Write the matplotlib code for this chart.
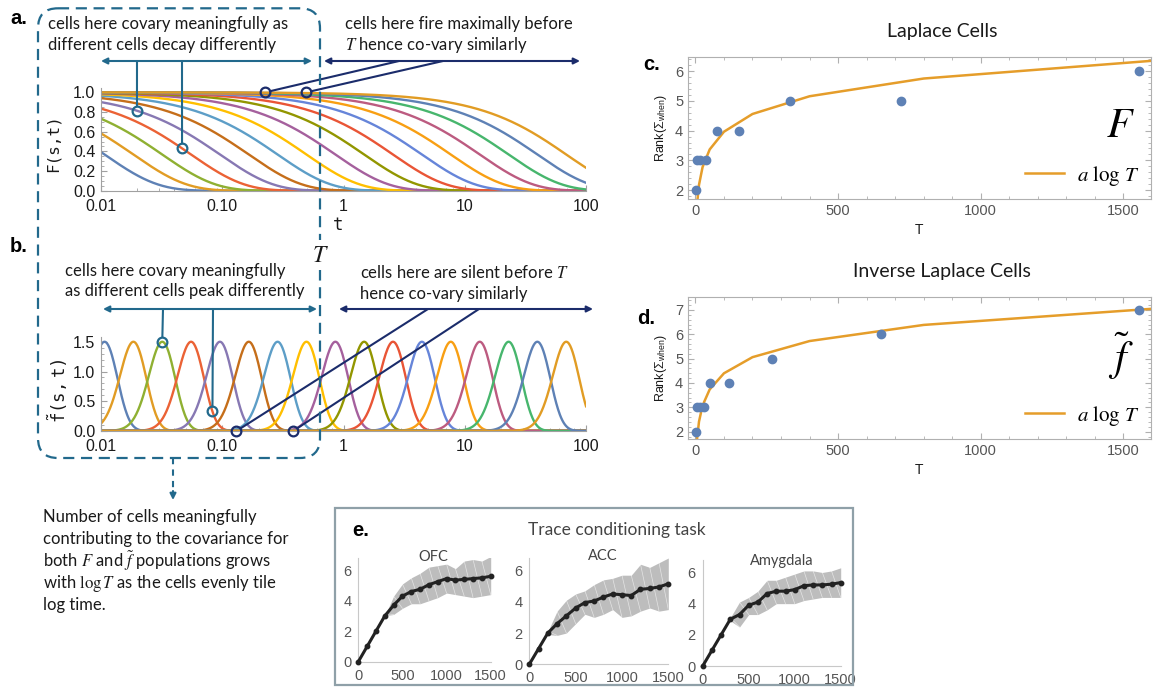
import numpy as np
import matplotlib
matplotlib.use('Agg')
import matplotlib.pyplot as plt
from matplotlib.patches import FancyBboxPatch, ConnectionPatch, Rectangle
from matplotlib.ticker import MultipleLocator, LogLocator, NullFormatter

plt.rcParams['font.family'] = ['Lato', 'DejaVu Sans']
plt.rcParams['mathtext.fontset'] = 'stix'

W, H = 1156, 689

# peak times / decay constants of the 17 cells
cell_tau = [0.0107, 0.0185, 0.032, 0.0553, 0.0957, 0.1655, 0.286, 0.495,
            0.857, 1.48, 2.56, 4.43, 7.67, 13.3, 23.0, 39.7, 68.7]
peak_height = 1.5
tilde_k = 16
cell_colors = ['#5e81b5', '#e19c24', '#8fb032', '#eb6235', '#8778b3', '#c56e1a',
               '#5d9ec7', '#ffbf00', '#a5609d', '#929600', '#e95536', '#6685d9',
               '#f89f13', '#bc5b80', '#47b66d', '#5e81b5', '#e19c24']

# rank of the covariance matrix vs interval length T
laplace_T = [3, 7, 17, 37, 74, 152, 330, 720, 1555]
laplace_rank = [2, 3, 3, 3, 4, 4, 5, 5, 6]
laplace_a = 0.861
inverse_T = [3, 7, 17, 30, 52, 116, 270, 650, 1555]
inverse_rank = [2, 3, 3, 3, 4, 4, 5, 6, 7]
inverse_a = 0.955
fit_T = [6.25, 12.5, 25, 50, 100, 200, 400, 800, 1600]

# trace conditioning task (rank vs time, mean and spread)
trace_x = [0, 100, 200, 300, 400, 500, 600, 700, 800, 900, 1000, 1100, 1200, 1300, 1400, 1500]
ofc_mean = [0, 1, 2, 3, 3.7, 4.3, 4.6, 4.75, 5.05, 5.25, 5.45, 5.35, 5.4, 5.45, 5.5, 5.6]
ofc_lo = [3.0, 3.1, 3.5, 3.8, 3.8, 4.0, 4.2, 4.5, 4.4, 4.3, 4.2, 4.3, 4.4]
ofc_hi = [3.0, 4.3, 5.1, 5.5, 5.8, 6.2, 6.3, 6.4, 6.1, 6.6, 6.7, 6.6, 6.9]
acc_mean = [0, 1, 2, 2.6, 3.1, 3.6, 3.95, 4.05, 4.3, 4.5, 4.45, 4.4, 4.8, 4.85, 4.95, 5.15]
acc_lo = [1.9, 1.85, 2.0, 2.6, 3.2, 3.0, 3.2, 3.5, 3.0, 3.1, 3.4, 3.6, 3.4, 3.5]
acc_hi = [2.1, 3.4, 4.1, 4.5, 4.7, 5.1, 5.4, 5.5, 5.7, 5.7, 6.4, 6.2, 6.5, 6.8]
amy_mean = [0, 1, 2, 3, 3.3, 3.9, 4.1, 4.65, 4.8, 4.8, 4.9, 5.15, 5.2, 5.2, 5.25, 5.35]
amy_lo = [2.9, 2.5, 3.3, 3.3, 3.6, 4.0, 4.0, 4.0, 4.2, 4.3, 4.4, 4.4, 4.4]
amy_hi = [3.1, 4.1, 4.4, 4.8, 5.5, 5.5, 5.7, 5.9, 6.1, 6.1, 6.0, 6.1, 6.3]

teal = '#22698c'
navy = '#1b2c6b'
txt = '#1a1a1a'
note_size = 12

fig = plt.figure(figsize=(W / 100, H / 100), dpi=100)
ov = fig.add_axes([0, 0, 1, 1], zorder=10)
ov.set_xlim(0, W)
ov.set_ylim(H, 0)
ov.axis('off')


def px_axes(x0, y0, x1, y1):
    return fig.add_axes([x0 / W, 1 - y1 / H, (x1 - x0) / W, (y1 - y0) / H])


def harrow(x0, x1, y, color):
    ov.annotate('', xy=(x1, y), xytext=(x0, y),
                arrowprops=dict(arrowstyle='<|-|>', color=color, lw=1.5,
                                mutation_scale=9, shrinkA=0, shrinkB=0))


def pointer(ax, xy, xy_px, color):
    con = ConnectionPatch(xyA=xy, coordsA=ax.transData, xyB=xy_px, coordsB=ov.transData,
                          color=color, lw=1.5, shrinkA=3.5, shrinkB=0)
    ov.add_artist(con)
    ax.plot(*xy, 'o', ms=7, mfc='none', mec=color, mew=1.6, clip_on=False, zorder=6)


def time_axis(ax):
    ax.set_xscale('log')
    ax.set_xlim(0.01, 100)
    for s in ['top', 'right']:
        ax.spines[s].set_visible(False)
    for s in ['left', 'bottom']:
        ax.spines[s].set_color('#a0a0a0')
    ax.set_xticks([0.01, 0.1, 1, 10, 100])
    ax.set_xticklabels(['0.01', '0.10', '1', '10', '100'])
    ax.xaxis.set_minor_locator(LogLocator(subs=np.arange(2, 10)))
    ax.xaxis.set_minor_formatter(NullFormatter())
    ax.tick_params(which='both', direction='in', color='#a0a0a0', labelsize=11.5,
                   labelcolor=txt, labelfontfamily='Liberation Sans')
    ax.tick_params(which='major', length=4)
    ax.tick_params(which='minor', length=2)
    ax.tick_params(axis='x', pad=6)
    ax.tick_params(axis='y', pad=4)
    ax.patch.set_alpha(0)


t = np.logspace(-2, 2, 800)

# a. Laplace cells
axa = px_axes(101, 88.4, 586, 190.7)
for tau, c in zip(cell_tau, cell_colors):
    axa.plot(t, np.exp(-t / tau), color=c, lw=1.7)
time_axis(axa)
axa.set_ylim(0, 1.04)
axa.set_yticks([0, 0.2, 0.4, 0.6, 0.8, 1.0])
axa.set_yticklabels(['0.0', '0.2', '0.4', '0.6', '0.8', '1.0'])
axa.yaxis.set_minor_locator(MultipleLocator(0.05))
ov.text(53, 143, 'F(s,t)', rotation=90, ha='center', va='center', fontsize=11.5,
        family='DejaVu Sans Mono', color=txt)
ov.text(338, 225, 't', ha='center', va='center', fontsize=12.5,
        family='DejaVu Sans Mono', color=txt)

# b. inverse Laplace cells
axb = px_axes(101, 337, 586, 431)
for tau, c in zip(cell_tau, cell_colors):
    u = t / tau
    axb.plot(t, peak_height * u ** tilde_k * np.exp(tilde_k * (1 - u)), color=c, lw=1.7)
time_axis(axb)
axb.set_ylim(0, 1.58)
axb.set_yticks([0, 0.5, 1.0, 1.5])
axb.set_yticklabels(['0.0', '0.5', '1.0', '1.5'])
axb.yaxis.set_minor_locator(MultipleLocator(0.1))
ov.text(58, 391, r'$\tilde{\mathtt{f}}\mathtt{(s,t)}$', rotation=90, ha='center', va='center',
        fontsize=12.5, math_fontfamily='dejavusans', color=txt)

# panel letters
for x, y, s in [(19, 19, 'a.'), (19, 247, 'b.'), (652, 65, 'c.'), (646, 318, 'd.'), (361, 530, 'e.')]:
    ov.text(x, y, s, ha='center', va='center', fontsize=14.5, weight='bold',
            family='Liberation Sans', color='black')

# annotations panel a
ov.text(48, 24, 'cells here covary meaningfully as', va='center', fontsize=note_size, color=txt)
ov.text(48, 45, 'different cells decay differently', va='center', fontsize=note_size, color=txt)
ov.text(345, 24, 'cells here fire maximally before', va='center', fontsize=note_size, color=txt)
ov.text(345, 45, r'$T$ hence co-vary similarly', va='center', fontsize=note_size, color=txt)
harrow(101, 312, 61, teal)
harrow(324, 580, 61, navy)
pointer(axa, (0.0198, np.exp(-0.0198 / cell_tau[4])), (137, 61), teal)
pointer(axa, (0.0466, np.exp(-0.0466 / cell_tau[3])), (182, 61), teal)
pointer(axa, (0.226, 1.0), (399, 61), navy)
pointer(axa, (0.495, 1.0), (443, 61), navy)

# annotations panel b
ov.text(65, 271, 'cells here covary meaningfully', va='center', fontsize=note_size, color=txt)
ov.text(65, 291, 'as different cells peak differently', va='center', fontsize=note_size, color=txt)
ov.text(360, 273, r'cells here are silent before $T$', va='center', fontsize=note_size, color=txt)
ov.text(360, 294, 'hence co-vary similarly', va='center', fontsize=note_size, color=txt)
harrow(103, 317, 309, teal)
harrow(339, 593, 309, navy)
pointer(axb, (cell_tau[2], peak_height), (163, 309), teal)
u2 = 0.083 / cell_tau[3]
pointer(axb, (0.083, peak_height * u2 ** tilde_k * np.exp(tilde_k * (1 - u2))), (213, 309), teal)
pointer(axb, (0.131, 0.0), (428, 309), navy)
pointer(axb, (0.384, 0.0), (479, 309), navy)

# dashed region and T marker
ov.add_patch(FancyBboxPatch((38, 8.3), 282, 449.7, boxstyle='round,pad=0,rounding_size=20',
                            fill=False, ec=teal, lw=1.6, ls=(0, (5, 3))))
ov.text(320, 255, '$T$', ha='center', va='center', fontsize=17, color=txt,
        bbox=dict(fc='white', ec='none', pad=3))
ov.plot([173, 173], [458, 492], color=teal, lw=1.5, ls=(0, (3, 2.5)))
ov.annotate('', xy=(173, 500), xytext=(173, 491),
            arrowprops=dict(arrowstyle='-|>', color=teal, lw=1.5, mutation_scale=9,
                            shrinkA=0, shrinkB=0))
summary = ['Number of cells meaningfully',
           'contributing to the covariance for',
           r'both $F$ and $\tilde{f}$ populations grows',
           r'with $\log T$ as the cells evenly tile',
           'log time.']
for i, line in enumerate(summary):
    ov.text(43, 517 + 22 * i, line, va='center', fontsize=note_size, color=txt)


# c, d. rank of covariance
def rank_panel(box, T, rank, a, ylim, yticks, title, title_y, sym, sym_y):
    ax = px_axes(*box)
    fit = [a * np.log(v) for v in fit_T]
    ax.plot(fit_T, fit, color='#e59d2a', lw=1.8, label=r'$a\ \log\,T$')
    ax.plot(T, rank, 'o', color='#5e81b5', ms=6, clip_on=False, zorder=5)
    ax.set_xlim(-26, 1595)
    ax.set_ylim(*ylim)
    ax.set_xticks([0, 500, 1000, 1500])
    ax.set_yticks(yticks)
    ax.xaxis.set_minor_locator(MultipleLocator(100))
    ax.yaxis.set_minor_locator(MultipleLocator(0.2))
    for s in ax.spines.values():
        s.set_color('#b0b0b0')
    ax.tick_params(which='both', direction='in', top=True, right=True, color='#b0b0b0',
                   labelsize=10.5, labelcolor='#555555', labelfontfamily='Liberation Sans')
    ax.tick_params(which='major', length=4)
    ax.tick_params(which='minor', length=2)
    ax.set_xlabel('T', fontsize=10, family='Liberation Sans', color=txt, labelpad=4)
    ax.set_ylabel(r'Rank(Σ$_{\mathregular{when}}$)', fontsize=9, family='Liberation Sans',
                  color=txt, labelpad=4)
    ax.legend(loc='lower right', frameon=False, fontsize=15, handlelength=1.9,
              handletextpad=0.6, borderaxespad=0.15)
    ax.text(0.935, sym_y, sym, transform=ax.transAxes, ha='center', va='center', fontsize=30)
    ov.text(942, title_y, title, ha='center', va='center', fontsize=14, color=txt)
    return ax


axc = rank_panel((688, 56.7, 1150.6, 199), laplace_T, laplace_rank, laplace_a,
                 (1.7, 6.49), [2, 3, 4, 5, 6], 'Laplace Cells', 32, '$F$', 0.52)
axd = rank_panel((688, 297, 1150.6, 439), inverse_T, inverse_rank, inverse_a,
                 (1.7, 7.53), [2, 3, 4, 5, 6, 7], 'Inverse Laplace Cells', 272,
                 r'$\tilde{f}$', 0.58)

# e. trace conditioning task
ov.add_patch(Rectangle((335, 508), 518, 177, fill=False, ec='#8fa0a8', lw=1.6))
ov.text(617, 530, 'Trace conditioning task', ha='center', va='center', fontsize=12.5,
        color='#444444')


def trace_panel(box, mean, lo, hi, name, name_xy):
    ax = px_axes(*box)
    bx = trace_x[len(trace_x) - len(lo):]
    ax.fill_between(bx, lo, hi, color='#bdbdbd', lw=0)
    for i in range(len(bx) - 1):
        ax.plot([bx[i], bx[i + 1]], [hi[i], lo[i + 1]], color='white', lw=0.5, alpha=0.6)
    ax.plot(trace_x, mean, '-o', color='#222222', lw=2.2, ms=3.2, clip_on=False, zorder=4)
    ax.set_xlim(0, 1500)
    ax.set_ylim(0, 6.8)
    ax.set_xticks([0, 500, 1000, 1500])
    ax.set_yticks([0, 2, 4, 6])
    for s in ['top', 'right']:
        ax.spines[s].set_visible(False)
    for s in ['left', 'bottom']:
        ax.spines[s].set_color('#c8c8c8')
    ax.tick_params(length=0, labelsize=10.5, labelcolor='#555555', pad=5,
                   labelfontfamily='Liberation Sans')
    ax.patch.set_alpha(0)
    ov.text(*name_xy, name, ha='center', va='center', fontsize=10.5, color='#444444')
    return ax


trace_panel((358.3, 558, 490.7, 661.7), ofc_mean, ofc_lo, ofc_hi, 'OFC', (433, 557))
trace_panel((529.3, 558, 668.3, 664.3), acc_mean, acc_lo, acc_hi, 'ACC', (603, 556))
trace_panel((702.7, 560, 840.7, 666), amy_mean, amy_lo, amy_hi, 'Amygdala', (782, 561))

fig.savefig('out.png', dpi=100)
